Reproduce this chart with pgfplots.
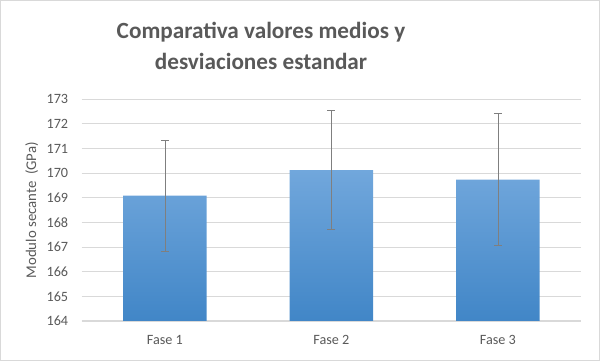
\documentclass[border=0pt]{standalone}
\usepackage{pgfplots}
\pgfplotsset{compat=1.18}
\usepackage{fontspec}
\setmainfont{Carlito}
\definecolor{txt}{HTML}{595959}
\definecolor{gridc}{HTML}{D9D9D9}
\definecolor{bartop}{HTML}{71A7DC}
\definecolor{barbot}{HTML}{4186C7}
\definecolor{errc}{HTML}{7F7F7F}
\begin{document}
\begin{tikzpicture}
\draw[color=gridc, line width=1pt] (0.5pt,0.5pt) rectangle (599.5pt,360.5pt);
\node[text=txt, font=\fontsize{23.2}{31}\selectfont\bfseries, align=center] at (261pt,315pt) {Comparativa valores medios y\\desviaciones estandar};
\begin{axis}[
  at={(81.7pt,40pt)}, anchor=south west,
  scale only axis, width=499.5pt, height=221.7pt,
  ymin=164, ymax=173, ytick={164,165,...,173},
  xmin=-0.5, xmax=2.5,
  xtick=data, xticklabels={Fase 1,Fase 2,Fase 3},
  axis x line*=bottom,
  axis line style={draw=gridc, line width=1pt},
  y axis line style={draw=none},
  ymajorgrids, grid style={draw=gridc, line width=0.9pt},
  tick style={draw=none},
  ticklabel style={text=txt, font=\fontsize{14.2}{17}\selectfont},
  /pgf/number format/assume math mode=true,
  yticklabel style={anchor=east, xshift=-10pt},
  xticklabel style={yshift=-11pt},
  ylabel={Modulo secante\ \ (GPa)},
  ylabel style={at={(axis description cs:-0.1,0.5)}, anchor=center, text=txt, font=\fontsize{14.8}{17}\selectfont},
  clip=false,
]
\addplot[ybar, bar width=83.5pt, draw=none, top color=bartop, bottom color=barbot,
  error bars/.cd, y dir=both, y explicit,
  error bar style={draw=errc, line width=0.9pt},
  error mark options={draw=errc, rotate=90, mark size=4pt, line width=0.9pt}]
  coordinates {
  (0,169.09) +- (0,2.25)
  (1,170.13) +- (0,2.42)
  (2,169.74) +- (0,2.68)
  };
\end{axis}
\end{tikzpicture}
\end{document}
